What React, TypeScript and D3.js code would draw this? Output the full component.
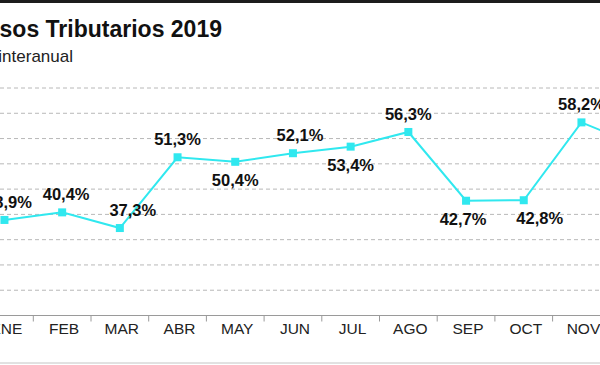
import React from "react";
import * as d3 from "d3";

const months = ["ENE", "FEB", "MAR", "ABR", "MAY", "JUN", "JUL", "AGO", "SEP", "OCT", "NOV", "DIC"];
const variation = [38.9, 40.4, 37.3, 51.3, 50.4, 52.1, 53.4, 56.3, 42.7, 42.8, 58.2, 53.5];
const labelSide = ["above", "above", "above", "above", "below", "above", "below", "above", "below", "below", "above", "above"];
const gridValues = [25, 30, 35, 40, 45, 50, 55, 60, 65];

// small hand nudges so labels clear the line
const nudge: Record<string, number> = { ENE: 4, MAR: 13, JUN: 7, OCT: 16, FEB: 4, SEP: -3 };

const width = 600;
const height = 365;
const cyan = "#30e8ef";
const font = "'Liberation Sans', Arial, sans-serif";

const App = () => {
  const x = d3.scaleBand().domain(months).range([-24.4, -24.4 + 57.7 * 12]);
  const y = d3.scaleLinear().domain([20, 65]).range([315.5, 88]);
  const cx = (m: string) => (x(m) as number) + x.bandwidth() / 2;

  const line = d3
    .line<number>()
    .x((_, i) => cx(months[i]))
    .y((d) => y(d));

  return (
    <svg width={width} height={height} style={{ position: "absolute", left: 0, top: 0, background: "#fff" }}>
      <rect x={0} y={0} width={width} height={3} fill="#1c1c1c" />
      <text x={222} y={37} textAnchor="end" fontFamily={font} fontWeight="bold" fontSize={23} fill="#111">
        Ingresos Tributarios 2019
      </text>
      <text x={73} y={62} textAnchor="end" fontFamily={font} fontSize={17} fill="#222">
        Variación % interanual
      </text>

      {gridValues.map((v) => (
        <line key={v} x1={0} x2={width} y1={y(v)} y2={y(v)} stroke="#b8b8b8" strokeDasharray="4,3" strokeWidth={1} />
      ))}

      <line x1={0} x2={width} y1={y(20)} y2={y(20)} stroke="#9a9a9a" strokeWidth={1} />
      {months.slice(1).map((m) => (
        <line key={m} x1={x(m)} x2={x(m)} y1={y(20)} y2={y(20) + 6} stroke="#9a9a9a" strokeWidth={1} />
      ))}
      {months.map((m) => (
        <text key={m} x={cx(m) + 2} y={334} textAnchor="middle" fontFamily={font} fontSize={15.5} fill="#222">
          {m}
        </text>
      ))}
      <line x1={0} x2={width} y1={363} y2={363} stroke="#c4c4c4" strokeWidth={1} />

      <path d={line(variation) || ""} fill="none" stroke={cyan} strokeWidth={2} />
      {variation.map((v, i) => (
        <rect key={months[i]} x={cx(months[i]) - 4} y={y(v) - 4} width={8} height={8} fill={cyan} />
      ))}
      {variation.map((v, i) => (
        <text
          key={"l" + months[i]}
          x={cx(months[i]) + (nudge[months[i]] || 0)}
          y={labelSide[i] === "above" ? y(v) - 12 : y(v) + 24}
          textAnchor="middle"
          fontFamily={font}
          fontWeight="bold"
          fontSize={16.5}
          fill="#111"
        >
          {v.toFixed(1).replace(".", ",") + "%"}
        </text>
      ))}
    </svg>
  );
};

export default App;
